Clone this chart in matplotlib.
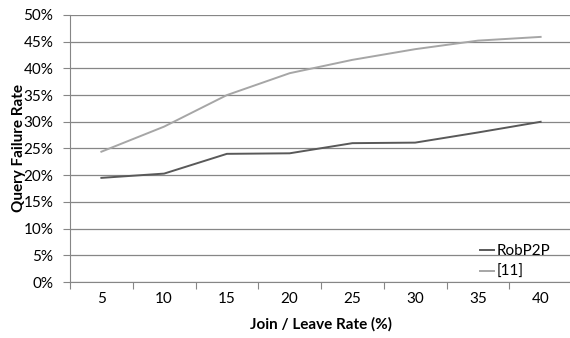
import matplotlib.pyplot as plt
from matplotlib.ticker import FuncFormatter, MultipleLocator

# join/leave rate categories
rates = ["5", "10", "15", "20", "25", "30", "35", "40"]
robp2p = [19.5, 20.3, 24.0, 24.1, 26.0, 26.1, 28.0, 30.0]
ref11 = [24.4, 29.1, 35.0, 39.1, 41.6, 43.6, 45.2, 45.9]

plt.rcParams['font.family'] = ['Lato', 'DejaVu Sans']

fig = plt.figure(figsize=(5.7, 3.38), dpi=100)
ax = fig.add_axes([70 / 570, 56 / 338, 502 / 570, 267 / 338])

xs = [i + 0.5 for i in range(len(rates))]
ax.plot(xs, robp2p, color="#595959", lw=1.4, label="RobP2P")
ax.plot(xs, ref11, color="#a6a6a6", lw=1.4, label="[11]")

ax.set_xlim(0, len(rates))
ax.set_ylim(0, 50)
ax.yaxis.set_major_locator(MultipleLocator(5))
ax.yaxis.set_major_formatter(FuncFormatter(lambda v, p: "%d%%" % v))
ax.set_xticks(range(len(rates) + 1))
ax.set_xticklabels([])
ax.set_xticks(xs, minor=True)
ax.set_xticklabels(rates, minor=True)
ax.tick_params(axis="x", which="minor", length=0, pad=7, labelsize=11, colors="black")
ax.tick_params(axis="x", which="major", length=5, color="#868686")
ax.tick_params(axis="y", length=5, color="#868686", labelsize=11, pad=7)

ax.grid(axis="y", color="#868686", lw=0.9)
ax.set_axisbelow(True)
for s in ["top", "right"]:
    ax.spines[s].set_visible(False)
for s in ["left", "bottom"]:
    ax.spines[s].set_color("#868686")

ax.set_xlabel("Join / Leave Rate (%)", fontsize=11, fontweight="bold", labelpad=8)
ax.set_ylabel("Query Failure Rate", fontsize=11, fontweight="bold")
# place y label like the original (centre near x=17px)
ax.yaxis.set_label_coords(-0.088, 0.5)

leg = ax.legend(loc="lower right", bbox_to_anchor=(0.985, -0.04), frameon=False,
                fontsize=11, handlelength=0.9, handletextpad=0.2, labelspacing=0.45)

fig.savefig("out.png", dpi=100)
